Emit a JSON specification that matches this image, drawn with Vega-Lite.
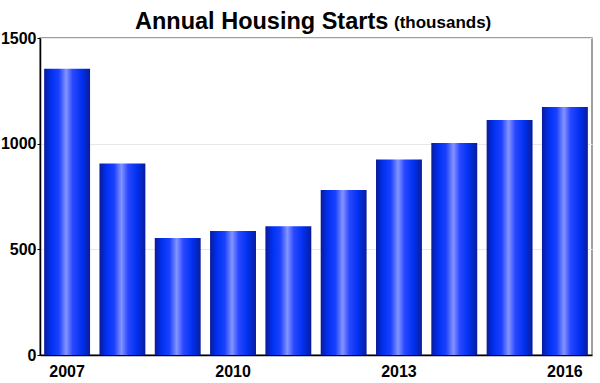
{
  "$schema": "https://vega.github.io/schema/vega-lite/v6.json",
  "width": 552,
  "height": 317,
  "autosize": {"type": "none"},
  "padding": {"left": 40, "top": 38, "right": 8, "bottom": 28},
  "background": "white",
  "title": {
    "text": "Annual Housing Starts",
    "subtitle": "(thousands)",
    "anchor": "start",
    "frame": "group",
    "font": "Liberation Sans",
    "fontSize": 23.5,
    "fontWeight": "bold",
    "color": "#000000",
    "subtitleFont": "Liberation Sans",
    "subtitleFontSize": 17,
    "subtitleFontWeight": "bold",
    "subtitleColor": "#000000",
    "subtitlePadding": -18.3,
    "dx": 354,
    "offset": -3,
    "encoding": {"dx": {"value": 95}}
  },
  "data": {
    "values": [
      {"year": "2007", "starts": 1355},
      {"year": "2008", "starts": 906},
      {"year": "2009", "starts": 554},
      {"year": "2010", "starts": 587},
      {"year": "2011", "starts": 609},
      {"year": "2012", "starts": 781},
      {"year": "2013", "starts": 925},
      {"year": "2014", "starts": 1003},
      {"year": "2015", "starts": 1112},
      {"year": "2016", "starts": 1174}
    ]
  },
  "mark": {
    "type": "bar",
    "color": {
      "gradient": "linear",
      "x1": 0, "y1": 0, "x2": 1, "y2": 0,
      "stops": [
        {"offset": 0, "color": "#0a1a9c"},
        {"offset": 0.15, "color": "#0030f0"},
        {"offset": 0.32, "color": "#1a40ff"},
        {"offset": 0.48, "color": "#8494ff"},
        {"offset": 0.62, "color": "#2a48ff"},
        {"offset": 0.82, "color": "#0030f0"},
        {"offset": 1, "color": "#0a1c9c"}
      ]
    }
  },
  "encoding": {
    "x": {
      "field": "year",
      "type": "ordinal",
      "scale": {"paddingInner": 0.17, "paddingOuter": 0.075},
      "axis": {
        "values": ["2007", "2010", "2013", "2016"],
        "title": null,
        "labelAngle": 0,
        "labelFont": "Liberation Sans",
        "labelFontSize": 16,
        "labelFontWeight": "bold",
        "labelColor": "#000000",
        "labelPadding": 8,
        "ticks": false,
        "domainColor": "#000000",
        "domainWidth": 1.5
      }
    },
    "y": {
      "field": "starts",
      "type": "quantitative",
      "scale": {"domain": [0, 1500], "nice": false},
      "axis": {
        "values": [0, 500, 1000, 1500],
        "format": "d",
        "title": null,
        "labelFont": "Liberation Sans",
        "labelFontSize": 16,
        "labelFontWeight": "bold",
        "labelColor": "#000000",
        "labelPadding": 1,
        "tickSize": 3,
        "tickColor": "#000000",
        "domainColor": "#000000",
        "domainWidth": 1.5,
        "gridColor": "#e8e8e8",
        "gridWidth": 1
      }
    }
  },
  "config": {
    "view": {"stroke": "#808080", "strokeWidth": 1.5}
  }
}
